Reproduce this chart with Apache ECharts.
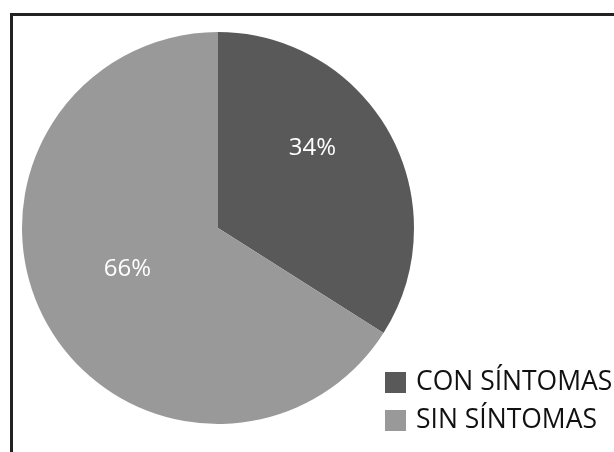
<!DOCTYPE html>
<html>
<head>
<meta charset="utf-8">
<script src="https://cdn.jsdelivr.net/npm/echarts@6/dist/echarts.min.js"></script>
<style>
html,body{margin:0;padding:0;background:#fff;overflow:hidden;}
#frame{position:absolute;left:10px;top:13px;width:620px;height:460px;border-top:3px solid #222;border-left:3px solid #222;box-sizing:border-box;}
#chart{position:absolute;left:0;top:0;width:614px;height:452px;}
</style>
</head>
<body>
<div id="frame"></div>
<div id="chart"></div>
<script>
const categories = ["CON SÍNTOMAS", "SIN SÍNTOMAS"];
const values = [34, 66];
const colors = ["#595959", "#999999"];
const labelShift = [[6, -31], [-2, -8]];

const chart = echarts.init(document.getElementById('chart'));
chart.setOption({
  animation: false,
  color: colors,
  legend: {
    orient: 'vertical',
    left: 380,
    top: 364,
    itemWidth: 21,
    itemHeight: 21,
    itemGap: 11,
    icon: 'rect',
    textStyle: { fontFamily: 'Open Sans', fontSize: 26.5, lineHeight: 21, color: '#111', padding: [4,0,0,5] },
    data: categories
  },
  series: [{
    type: 'pie',
    center: [218, 228],
    radius: 196,
    startAngle: 90,
    clockwise: true,
    avoidLabelOverlap: false,
    itemStyle: { borderWidth: 0 },
    label: {
      show: true,
      position: 'inside',
      formatter: p => p.value + '%',
      color: '#fff',
      fontFamily: 'Open Sans',
      fontSize: 24
    },
    labelLine: { show: false },
    labelLayout: p => ({ dx: labelShift[p.dataIndex][0], dy: labelShift[p.dataIndex][1] }),
    emphasis: { disabled: true },
    data: categories.map((c, i) => ({ name: c, value: values[i] }))
  }]
});
</script>
</body>
</html>
